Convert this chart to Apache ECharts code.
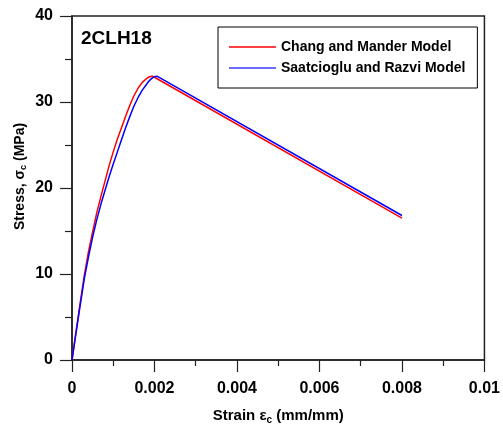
<!DOCTYPE html>
<html>
<head>
<meta charset="utf-8">
<script src="https://cdn.jsdelivr.net/npm/echarts@6/dist/echarts.min.js"></script>
<style>html,body{margin:0;padding:0;background:#fff}#c{width:503px;height:430px}</style>
</head>
<body>
<div id="c"></div>
<script>
var seriesNames = ['Chang and Mander Model', 'Saatcioglu and Razvi Model'];
var changStrain = [0, 0.00005, 0.0001, 0.00015, 0.0002, 0.0003, 0.0004, 0.0005, 0.0006, 0.0007, 0.0008, 0.0009, 0.001, 0.0011, 0.0012, 0.0013, 0.0014, 0.0015, 0.0016, 0.0017, 0.0018, 0.00185, 0.0019, 0.00195, 0.002, 0.008];
var changStress = [0, 1.7, 3.4, 5.05, 6.7, 9.9, 12.6, 14.9, 17.1, 19.0, 20.8, 22.6, 24.2, 25.7, 27.0, 28.35, 29.6, 30.7, 31.6, 32.25, 32.7, 32.87, 32.96, 33.0, 32.88, 16.5];
var saatStrain = [0, 0.00005, 0.0001, 0.00015, 0.0002, 0.0003, 0.0004, 0.0005, 0.0006, 0.0007, 0.0008, 0.0009, 0.001, 0.0011, 0.0012, 0.0013, 0.0014, 0.0015, 0.0016, 0.0017, 0.0018, 0.00185, 0.0019, 0.00195, 0.002, 0.00203, 0.00206, 0.0021, 0.008];
var saatStress = [0, 1.6, 3.2, 4.8, 6.4, 9.5, 12.0, 14.3, 16.3, 18.1, 19.7, 21.3, 22.8, 24.2, 25.6, 27.0, 28.3, 29.5, 30.5, 31.35, 32.0, 32.35, 32.6, 32.8, 32.93, 32.98, 33.0, 32.95, 16.8];
var xTicks = [0, 0.002, 0.004, 0.006, 0.008, 0.01];
var yTicks = [0, 10, 20, 30, 40];
var specimenLabel = '2CLH18';

function pairs(xs, ys) { return xs.map(function (x, i) { return [x, ys[i]]; }); }

var FONT = 'Liberation Sans, Arial, sans-serif';
var chart = echarts.init(document.getElementById('c'), null, {renderer: 'canvas'});
chart.setOption({
  animation: false,
  backgroundColor: '#fff',
  grid: {left: 72, right: 14, top: 16, bottom: 66, show: true, borderColor: '#222', borderWidth: 1.5, backgroundColor: 'transparent'},
  xAxis: {
    type: 'value', min: xTicks[0], max: xTicks[xTicks.length - 1], interval: 0.002,
    axisLine: {lineStyle: {color: '#222', width: 1.5}},
    axisTick: {show: true, inside: false, length: 12, lineStyle: {color: '#222', width: 1.2}},
    minorTick: {show: true, splitNumber: 2, length: 6, lineStyle: {color: '#222', width: 1.2}},
    splitLine: {show: false},
    axisLabel: {margin: 21, color: '#000', fontSize: 16, fontWeight: 'bold', fontFamily: FONT,
      formatter: function (v) { return v === 0 ? '0' : String(+v.toFixed(3)); }},
    name: '{a|Strain ε}{s|c}{a| (mm/mm)}', nameLocation: 'middle', nameGap: 47,
    nameTextStyle: {rich: {
      a: {fontSize: 15, fontWeight: 'bold', fontFamily: FONT, color: '#000', lineHeight: 18},
      s: {fontSize: 10, fontWeight: 'bold', fontFamily: FONT, color: '#000', lineHeight: 10, padding: [8, 0, 0, 0], verticalAlign: 'bottom'}
    }}
  },
  yAxis: {
    type: 'value', min: yTicks[0], max: yTicks[yTicks.length - 1], interval: 10,
    axisLine: {lineStyle: {color: '#222', width: 1.5}},
    axisTick: {show: true, inside: false, length: 12, lineStyle: {color: '#222', width: 1.2}},
    minorTick: {show: true, splitNumber: 2, length: 7, lineStyle: {color: '#222', width: 1.2}},
    splitLine: {show: false},
    axisLabel: {margin: 19, color: '#000', fontSize: 16, fontWeight: 'bold', fontFamily: FONT}
  },
  legend: {
    orient: 'vertical', left: 218, top: 27,
    data: [{name: seriesNames[0]}, {name: seriesNames[1]}],
    icon: 'rect', itemWidth: 47, itemHeight: 1.5, itemGap: 5,
    padding: [12, 12, 12, 11],
    borderColor: '#000', borderWidth: 1, backgroundColor: '#fff',
    textStyle: {fontSize: 14, fontWeight: 'bold', fontFamily: FONT, color: '#000', lineHeight: 16}
  },
  graphic: [
    {type: 'text', left: 81, top: 29, style: {text: specimenLabel, fontSize: 19, fontWeight: 'bold', fontFamily: FONT, fill: '#000'}},
    {type: 'text', x: 20, y: 176.5, rotation: Math.PI / 2,
      style: {text: '{a|Stress, σ}{s|c}{a| (MPa)}', align: 'center', verticalAlign: 'middle',
        rich: {
          a: {fontSize: 14, fontWeight: 'bold', fontFamily: FONT, fill: '#000', lineHeight: 17},
          s: {fontSize: 9, fontWeight: 'bold', fontFamily: FONT, fill: '#000', lineHeight: 9, padding: [8, 0, 0, 0], verticalAlign: 'bottom'}
        }}}
  ],
  series: [
    {name: seriesNames[0], type: 'line', data: pairs(changStrain, changStress), smooth: false, showSymbol: false, symbol: 'none',
      lineStyle: {color: '#ff0000', width: 1.5}, itemStyle: {color: '#ff0000'}},
    {name: seriesNames[1], type: 'line', data: pairs(saatStrain, saatStress), smooth: false, showSymbol: false, symbol: 'none',
      lineStyle: {color: '#0000ff', width: 1.5}, itemStyle: {color: '#3b3bff'}}
  ]
});
</script>
</body>
</html>
